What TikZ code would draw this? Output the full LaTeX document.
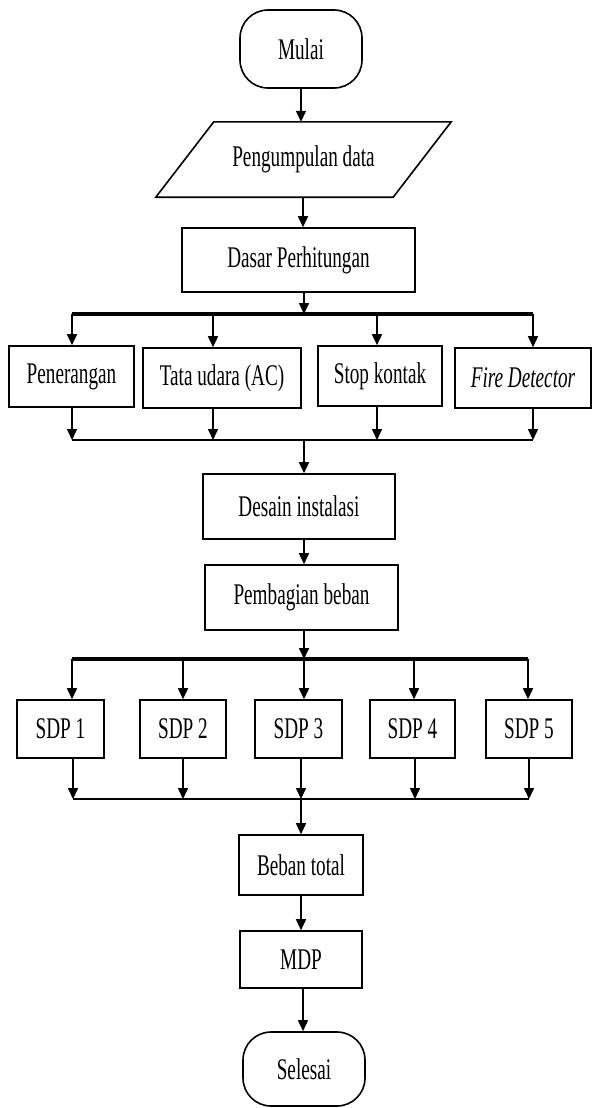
\documentclass[tikz,border=0pt]{standalone}
\usepackage{fontspec}
\setmainfont{Liberation Serif}[FakeStretch=0.64]
\usetikzlibrary{arrows.meta}
\begin{document}
\begin{tikzpicture}[x=1pt,y=-1pt,
  font=\fontsize{30}{34}\selectfont,
  box/.style={draw,line width=1.6pt,inner sep=0pt},
  term/.style={box,rounded corners=28pt},
  arr/.style={line width=1.6pt,-{Triangle[length=11pt,width=10pt]}},
  bus/.style={line width=3.5pt},
  line/.style={line width=1.6pt}]
\useasboundingbox (0,0) rectangle (592,1108);
\node[term,minimum width=122,minimum height=78] (mulai) at (301,49) {Mulai};
\node[inner sep=0pt,minimum width=237,minimum height=75] (kumpul) at (303.5,159.5) {Pengumpulan data};
\node[box,minimum width=233,minimum height=64] (dasar) at (298.5,260) {Dasar Perhitungan};
\node[box,minimum width=125,minimum height=61] (terang) at (71.5,376.5) {Penerangan};
\node[box,minimum width=158,minimum height=60] (udara) at (222,378) {Tata udara (AC)};
\node[box,minimum width=124,minimum height=60] (kontak) at (380,376) {Stop kontak};
\node[box,minimum width=136,minimum height=60] (fire) at (523,378) {\itshape Fire Detector};
\node[box,minimum width=192,minimum height=65] (desain) at (299,506.5) {Desain instalasi};
\node[box,minimum width=193,minimum height=65] (bagi) at (301.5,597.5) {Pembagian beban};
\node[box,minimum width=87,minimum height=58] (sdp1) at (60.5,729) {SDP 1};
\node[box,minimum width=86,minimum height=58] (sdp2) at (183,729) {SDP 2};
\node[box,minimum width=87,minimum height=58] (sdp3) at (298.5,729) {SDP 3};
\node[box,minimum width=85,minimum height=58] (sdp4) at (412.5,729) {SDP 4};
\node[box,minimum width=86,minimum height=58] (sdp5) at (529,729) {SDP 5};
\node[box,minimum width=124,minimum height=60] (total) at (301,865) {Beban total};
\node[box,minimum width=122,minimum height=57] (mdp) at (301,959.5) {MDP};
\node[term,minimum width=122,minimum height=74] (selesai) at (304,1069) {Selesai};
\draw[line] ([xshift=-29]kumpul.south west) -- ([xshift=29]kumpul.north west)
  -- ([xshift=29]kumpul.north east) -- ([xshift=-29]kumpul.south east) -- cycle;

\coordinate (a0) at (304,314);
\coordinate (a1) at (72,314);
\coordinate (a2) at (213,314);
\coordinate (a3) at (377,314);
\coordinate (a4) at (533,314);
\coordinate (b0) at (304,440);
\coordinate (c0) at (304,659);
\coordinate (c1) at (72,659);
\coordinate (c2) at (183,659);
\coordinate (c3) at (304,659);
\coordinate (c4) at (414,659);
\coordinate (c5) at (528,659);
\coordinate (d0) at (301,799);
\coordinate (d1) at (73,799);
\coordinate (d2) at (183,799);
\coordinate (d3) at (301,799);
\coordinate (d4) at (415,799);
\coordinate (d5) at (529,799);

\draw[arr] (mulai) -- (mulai |- kumpul.north);
\draw[arr] (kumpul.south -| 303,0) -- (dasar.north -| 303,0);
\draw[arr] (dasar.south -| a0) -- (a0);
\draw[bus] (a1) -- (a4);
\foreach \i/\n in {1/terang,2/udara,3/kontak,4/fire}{
  \draw[arr] (a\i) -- (a\i |- \n.north);
  \draw[arr] (a\i |- \n.south) -- (a\i |- b0);
}
\draw[line] (a1 |- b0) -- (a4 |- b0);
\draw[arr] (b0) -- (b0 |- desain.north);
\draw[arr] (desain.south -| b0) -- (b0 |- bagi.north);
\draw[arr] (bagi.south -| c0) -- (c0);
\draw[bus] (c1) -- (c5);
\foreach \i in {1,...,5}{
  \draw[arr] (c\i) -- (c\i |- sdp\i.north);
  \draw[arr] (d\i |- sdp\i.south) -- (d\i);
}
\draw[line] (d1) -- (d5);
\draw[arr] (d0) -- (d0 |- total.north);
\draw[arr] (total.south -| d0) -- (d0 |- mdp.north);
\draw[arr] (mdp.south -| 303,0) -- (selesai.north -| 303,0);
\end{tikzpicture}
\end{document}
